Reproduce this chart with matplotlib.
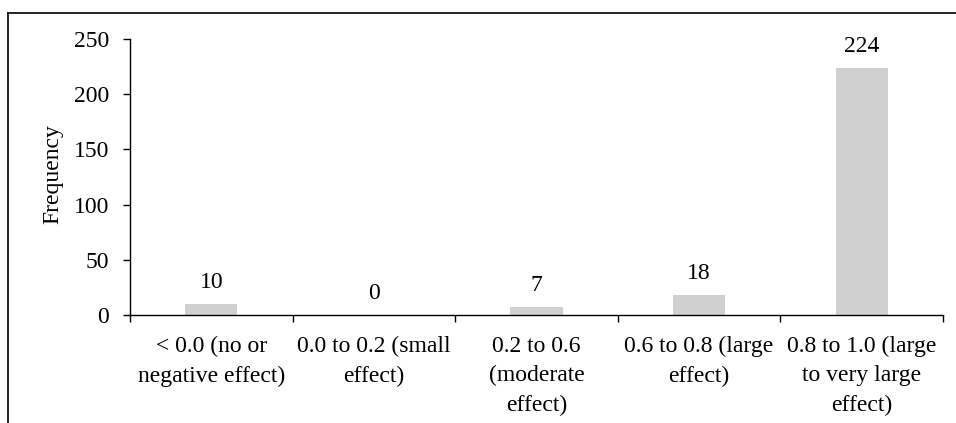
import matplotlib
matplotlib.use('Agg')
import matplotlib.pyplot as plt
from matplotlib.lines import Line2D

# dados
categories = ['< 0.0 (no or\nnegative effect)',
              '0.0 to 0.2 (small\neffect)',
              '0.2 to 0.6\n(moderate\neffect)',
              '0.6 to 0.8 (large\neffect)',
              '0.8 to 1.0 (large\nto very large\neffect)']
frequency = [10, 0, 7, 18, 224]
y_ticks = [0, 50, 100, 150, 200, 250]

plt.rcParams['font.family'] = ['Liberation Serif', 'DejaVu Serif']
fs = 17

fig = plt.figure(figsize=(9.56, 4.23), dpi=100)
ax = fig.add_axes([0.136, 0.2553, 0.8504, 0.6525])

pos = list(range(len(categories)))
bars = ax.bar(pos, frequency, width=0.32, color='#d0d0d0')

for p, v in zip(pos, frequency):
    ax.annotate(str(v), (p, v), xytext=(0, 8), textcoords='offset points',
                ha='center', va='bottom', fontsize=fs)

ax.set_xlim(-0.5, len(categories) - 0.5)
ax.set_ylim(0, 250)
ax.set_yticks(y_ticks)
ax.tick_params(axis='y', labelsize=fs, length=5, width=1, direction='out', pad=10)

# ticks do eixo x nas divisas
ax.set_xticks([i - 0.5 for i in range(len(categories) + 1)], minor=False)
ax.set_xticklabels([])
ax.tick_params(axis='x', length=5, width=1, direction='out')
ax.set_xticks(pos, minor=True)
ax.set_xticklabels(categories, minor=True, fontsize=fs, linespacing=1.52)
ax.tick_params(axis='x', which='minor', length=0, pad=15)

ax.spines['top'].set_visible(False)
ax.spines['right'].set_visible(False)
ax.spines['left'].set_linewidth(1)
ax.spines['bottom'].set_linewidth(1)

ax.set_ylabel('Frequency', fontsize=fs)
ax.yaxis.set_label_coords(-0.082, 0.51)

# moldura
fig.add_artist(Line2D([8 / 956, 1], [1 - 13 / 423, 1 - 13 / 423], color='black', lw=1.2))
fig.add_artist(Line2D([8 / 956, 8 / 956], [0, 1 - 13 / 423], color='black', lw=1.2))

fig.savefig('out.png', dpi=100)
